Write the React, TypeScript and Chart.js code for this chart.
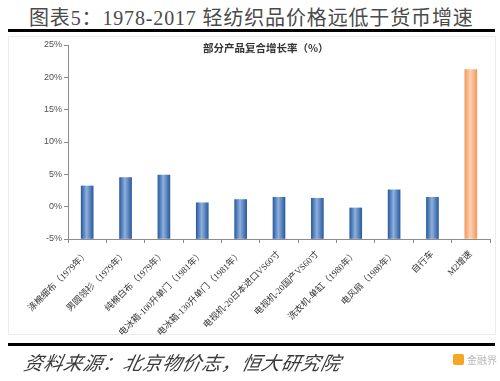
import React, { useEffect, useRef } from "react";
import { Chart, registerables } from "chart.js";

Chart.register(...registerables);

const categories = [
  "涤棉细布（1979年）",
  "男圆领衫（1979年）",
  "纯棉白布（1979年）",
  "电冰箱-100升单门（1981年）",
  "电冰箱-130升单门（1981年）",
  "电视机-20日本进口VS60寸",
  "电视机-20国产VS60寸",
  "洗衣机-单缸（1980年）",
  "电风扇（1980年）",
  "自行车",
  "M2增速",
];
const growthValues = [3.2, 4.5, 4.9, 0.6, 1.1, 1.45, 1.3, -0.2, 2.6, 1.45, 21.2];
const yTicks = [-5, 0, 5, 10, 15, 20, 25];
const headerTitle = "图表5：1978-2017 轻纺织品价格远低于货币增速";
const chartTitle = "部分产品复合增长率（%）";
const sourceText = "资料来源：北京物价志，恒大研究院";

const BAR_W = 12;

export default function App() {
  const ref = useRef<HTMLCanvasElement | null>(null);
  useEffect(() => {
    if (!ref.current) return;
    const bg = (c: any) => {
      const chart = c.chart;
      const isM2 = c.dataIndex === growthValues.length - 1;
      const fallback = isM2 ? "#f8b386" : "#4f7fc0";
      if (!chart.chartArea || !chart.scales || !chart.scales.x || c.dataIndex === undefined) return fallback;
      const x = chart.scales.x.getPixelForValue(c.dataIndex);
      const g = chart.ctx.createLinearGradient(x - BAR_W / 2, 0, x + BAR_W / 2, 0);
      if (isM2) {
        g.addColorStop(0, "#f49a5e");
        g.addColorStop(0.45, "#fcd3b4");
        g.addColorStop(1, "#f49a5e");
      } else {
        g.addColorStop(0, "#2c5c9e");
        g.addColorStop(0.45, "#8db0de");
        g.addColorStop(1, "#2c5c9e");
      }
      return g;
    };
    const chart = new Chart(ref.current, {
      type: "bar",
      data: {
        labels: categories,
        datasets: [
          {
            data: growthValues,
            base: -5,
            backgroundColor: bg,
            borderWidth: 0,
            barThickness: BAR_W,
          } as any,
        ],
      },
      options: {
        responsive: false,
        animation: false,
        devicePixelRatio: 1,
        layout: { padding: { left: 0, right: 10, top: 45, bottom: 0 } },
        plugins: {
          legend: { display: false },
          tooltip: { enabled: false },
          title: { display: false },
        },
        scales: {
          x: {
            afterFit: (s: any) => {
              s.height = 142;
            },
            grid: {
              display: true,
              drawOnChartArea: false,
              drawTicks: true,
              tickLength: 4,
              color: "#8c8c8c",
              offset: true,
            },
            border: { color: "#8c8c8c" },
            ticks: {
              autoSkip: false,
              minRotation: 45,
              maxRotation: 45,
              padding: 6,
              color: "#333",
              font: { family: '"Liberation Serif", "Noto Sans CJK SC"', size: 9 },
            },
          },
          y: {
            min: -5,
            max: 25,
            afterFit: (s: any) => {
              s.width = 68;
            },
            afterBuildTicks: (s: any) => {
              s.ticks = yTicks.map((v) => ({ value: v }));
            },
            grid: {
              display: true,
              drawOnChartArea: false,
              drawTicks: true,
              tickLength: 4,
              color: "#8c8c8c",
            },
            border: { color: "#8c8c8c" },
            ticks: {
              padding: 2,
              color: "#505050",
              font: { family: '"Liberation Sans", Arial', size: 9 },
              callback: (v: any) => `${v}%`,
            },
          },
        },
      },
    });
    return () => chart.destroy();
  }, []);

  return (
    <div
      style={{
        position: "absolute",
        left: 0,
        top: 0,
        width: 500,
        height: 381,
        background: "#fff",
        overflow: "hidden",
      }}
    >
      <div
        style={{
          position: "absolute",
          left: 29,
          top: 7,
          fontFamily: '"Liberation Serif", "Noto Sans CJK SC"',
          fontSize: 20,
          lineHeight: "22px",
          letterSpacing: "0.85px",
          color: "#4a4a4a",
          whiteSpace: "nowrap",
        }}
      >
        {headerTitle}
      </div>
      <div style={{ position: "absolute", left: 8, top: 29, width: 487, height: 3, background: "#000" }} />
      <div
        style={{
          position: "absolute",
          left: 8,
          top: 36,
          width: 488,
          height: 299,
          border: "1px solid #ececec",
          boxSizing: "border-box",
        }}
      />
      <canvas
        ref={ref}
        width={500}
        height={381}
        style={{ position: "absolute", left: 0, top: 0, width: 500, height: 381 }}
      />
      <div
        style={{
          position: "absolute",
          left: 203,
          top: 42,
          fontFamily: '"Noto Sans CJK SC"',
          fontWeight: "bold",
          fontSize: 10.5,
          lineHeight: "12px",
          color: "#333",
          whiteSpace: "nowrap",
        }}
      >
        {chartTitle}
      </div>
      <div style={{ position: "absolute", left: 8, top: 343, width: 487, height: 3, background: "#000" }} />
      <div
        style={{
          position: "absolute",
          left: 22,
          top: 351,
          fontFamily: '"Noto Sans CJK SC"',
          fontStyle: "italic",
          fontSize: 19,
          lineHeight: "22px",
          letterSpacing: "0.8px",
          color: "#3a3a3a",
          whiteSpace: "nowrap",
          transform: "skewX(-12deg)",
          transformOrigin: "left bottom",
        }}
      >
        {sourceText}
      </div>
      <div
        style={{ position: "absolute", left: 453, top: 354, width: 11, height: 11, background: "#f5a623", borderRadius: 2 }}
      />
      <div
        style={{
          position: "absolute",
          left: 467,
          top: 352,
          fontFamily: '"Noto Sans CJK SC"',
          fontSize: 10,
          lineHeight: "16px",
          color: "#b8b8b8",
          whiteSpace: "nowrap",
        }}
      >
        金融界
      </div>
    </div>
  );
}
